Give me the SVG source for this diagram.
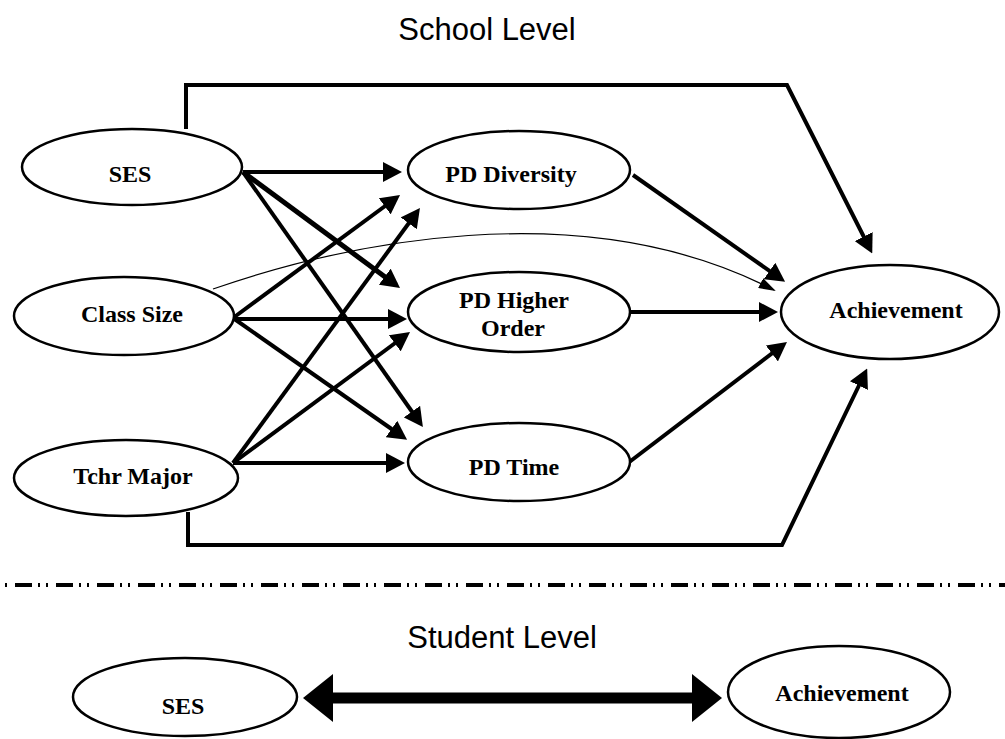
<svg xmlns="http://www.w3.org/2000/svg" width="1005" height="739" viewBox="0 0 1005 739">
<style>
.node ellipse{fill:#fff;stroke:#000;stroke-width:2.5}
.lbl{font-family:"Liberation Serif","Times New Roman",serif;font-weight:bold;font-size:24px;fill:#000;text-anchor:middle}
.title{font-family:"Liberation Sans",Arial,sans-serif;font-size:31px;fill:#000;text-anchor:middle}
.conn line,.conn path,.conn polyline{fill:none;stroke:#000;stroke-width:4}
</style>
<defs>
<marker id="ah" markerUnits="userSpaceOnUse" markerWidth="19" markerHeight="20" refX="14" refY="10" orient="auto" viewBox="0 0 19 20">
<path d="M0,0 L19,10 L0,20 z" fill="#000"/>
</marker>
<marker id="ahThin" markerUnits="userSpaceOnUse" markerWidth="17" markerHeight="11" refX="15" refY="5.5" orient="auto" viewBox="0 0 17 11">
<path d="M0,0 L17,5.5 L0,11 z" fill="#000"/>
</marker>
<marker id="ahBig" markerUnits="userSpaceOnUse" markerWidth="30" markerHeight="48" refX="5" refY="24" orient="auto-start-reverse" viewBox="0 0 30 48">
<path d="M0,0 L30,24 L0,48 z" fill="#000"/>
</marker>
</defs>
<rect width="1005" height="739" fill="#fff"/>
<text class="title" x="487" y="40">School Level</text>
<text class="title" x="502" y="648">Student Level</text>
<g class="conn" id="connectors">
<polyline points="186,129 186,85 787,85 870,249" marker-end="url(#ah)"/>
<polyline points="188,512 188,545 782,545 865,373" marker-end="url(#ah)"/>
<path d="M213,289 C340,245 580,190 774,290" style="stroke-width:1.2" marker-end="url(#ahThin)"/>
<line x1="243" y1="172" x2="397" y2="172" marker-end="url(#ah)"/>
<line x1="243" y1="172" x2="396" y2="285" style="stroke-width:5" marker-end="url(#ah)"/>
<line x1="243" y1="172" x2="420" y2="423" marker-end="url(#ah)"/>
<line x1="233" y1="318" x2="396" y2="198" marker-end="url(#ah)"/>
<line x1="233" y1="319" x2="402" y2="319" marker-end="url(#ah)"/>
<line x1="233" y1="318" x2="403" y2="437" marker-end="url(#ah)"/>
<line x1="233" y1="463" x2="417" y2="212" marker-end="url(#ah)"/>
<line x1="233" y1="463" x2="406" y2="335" marker-end="url(#ah)"/>
<line x1="233" y1="463" x2="400" y2="463" marker-end="url(#ah)"/>
<line x1="633" y1="175" x2="781" y2="279" marker-end="url(#ah)"/>
<line x1="630" y1="312" x2="773" y2="312" marker-end="url(#ah)"/>
<line x1="628" y1="463" x2="783" y2="345" marker-end="url(#ah)"/>
<line x1="328" y1="698" x2="697" y2="698" style="stroke-width:11" marker-start="url(#ahBig)" marker-end="url(#ahBig)"/>
<line x1="5" y1="585" x2="1005" y2="585" style="stroke-dasharray:17 6 2 6 2 8;stroke-dashoffset:31"/>
</g>
<g class="node" id="n-ses"><ellipse cx="132" cy="167" rx="110" ry="38"/><text class="lbl" x="130" y="182">SES</text></g>
<g class="node" id="n-class"><ellipse cx="124" cy="316" rx="110" ry="39"/><text class="lbl" x="132" y="322">Class Size</text></g>
<g class="node" id="n-tchr"><ellipse cx="126" cy="478" rx="112" ry="38"/><text class="lbl" x="133" y="484">Tchr Major</text></g>
<g class="node" id="n-pddiv"><ellipse cx="519" cy="170" rx="111" ry="39"/><text class="lbl" x="511" y="182">PD Diversity</text></g>
<g class="node" id="n-pdho"><ellipse cx="519" cy="312" rx="111" ry="40"/><text class="lbl" x="514" y="308">PD Higher</text><text class="lbl" x="513" y="336">Order</text></g>
<g class="node" id="n-pdtime"><ellipse cx="519" cy="462" rx="111" ry="39"/><text class="lbl" x="514" y="475">PD Time</text></g>
<g class="node" id="n-ach"><ellipse cx="890" cy="312" rx="109" ry="47"/><text class="lbl" x="896" y="318">Achievement</text></g>
<g class="node" id="n-ses2"><ellipse cx="185" cy="697" rx="112" ry="39"/><text class="lbl" x="183" y="714">SES</text></g>
<g class="node" id="n-ach2"><ellipse cx="839" cy="692" rx="111" ry="46"/><text class="lbl" x="842" y="701">Achievement</text></g>
</svg>
